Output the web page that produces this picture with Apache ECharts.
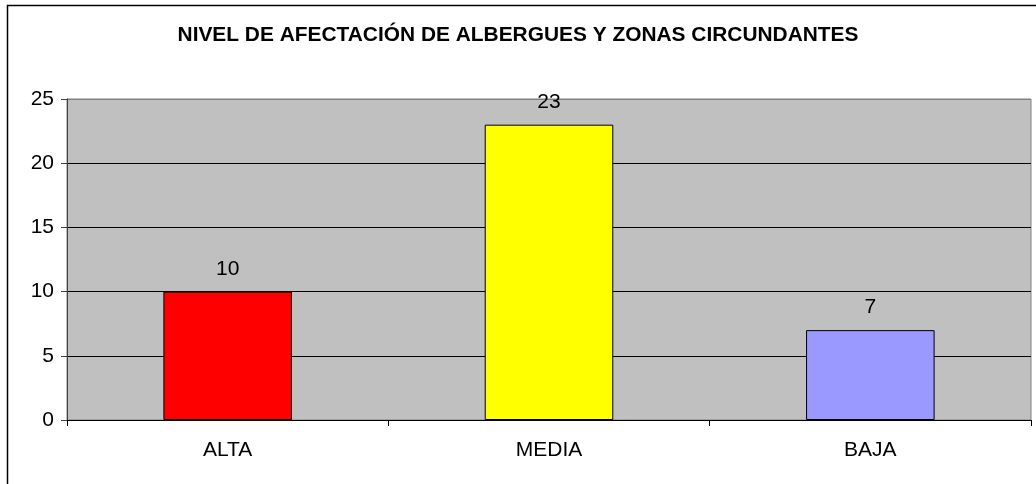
<!DOCTYPE html>
<html>
<head>
<meta charset="utf-8">
<script src="https://cdn.jsdelivr.net/npm/echarts@6/dist/echarts.min.js"></script>
<style>
  html, body { margin: 0; padding: 0; background: #fff; }
  #chart { width: 1036px; height: 484px; }
</style>
</head>
<body>
<div id="chart"></div>
<script>
var categories = ['ALTA', 'MEDIA', 'BAJA'];
var values = [10, 23, 7];
var barColors = ['#FF0000', '#FFFF00', '#9999FF'];

var chartDom = document.getElementById('chart');
var myChart = echarts.init(chartDom);
var fontFam = '"Liberation Sans", Arial, sans-serif';

var option = {
  animation: false,
  textStyle: { fontFamily: fontFam },
  title: {
    text: 'NIVEL DE AFECTACIÓN DE ALBERGUES Y ZONAS CIRCUNDANTES',
    left: 'center',
    top: 20,
    textStyle: { fontSize: 20.9, fontWeight: 'bold', color: '#000', fontFamily: fontFam }
  },
  graphic: [{
    type: 'rect',
    shape: { x: 7.5, y: 5.5, width: 1100, height: 600 },
    style: { fill: 'none', stroke: '#000', lineWidth: 1.5 },
    silent: true
  }],
  grid: {
    left: 67, right: 5, top: 99, bottom: 64,
    show: true, backgroundColor: '#C0C0C0', borderColor: '#808080', borderWidth: 1
  },
  xAxis: {
    type: 'category',
    data: categories,
    axisLine: { lineStyle: { color: '#000', width: 1 } },
    axisTick: { show: true, alignWithLabel: false, length: 6, lineStyle: { color: '#000' } },
    axisLabel: { color: '#000', fontSize: 21, margin: 20, fontFamily: fontFam }
  },
  yAxis: {
    type: 'value',
    min: 0, max: 25, interval: 5,
    axisLine: { show: true, lineStyle: { color: '#404040', width: 1 } },
    axisTick: { show: true, length: 6, lineStyle: { color: '#404040' } },
    axisLabel: { color: '#000', fontSize: 21, margin: 13, fontFamily: fontFam },
    splitLine: { show: true, lineStyle: { color: ['#000', '#000', '#000', '#000', '#000', '#808080'], width: 1 } }
  },
  series: [{
    type: 'bar',
    barWidth: '40%',
    data: values.map(function (v, i) {
      return { value: v, itemStyle: { color: barColors[i] } };
    }),
    itemStyle: { borderColor: '#000', borderWidth: 1 },
    label: { show: true, position: 'top', distance: 12, color: '#000', fontSize: 21, fontFamily: fontFam }
  }]
};

option && myChart.setOption(option);
</script>
</body>
</html>
